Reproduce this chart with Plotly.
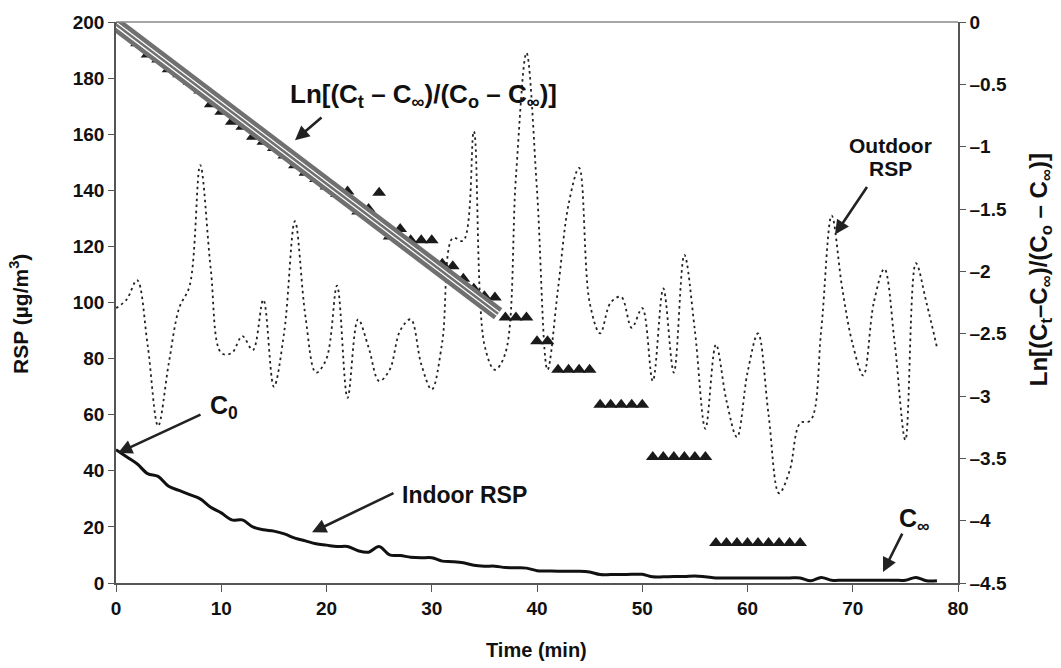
import plotly.graph_objects as go

# ---------------- data ----------------
time_min = list(range(0, 79))

outdoor_rsp = [98, 101, 108, 85, 56, 78, 98, 106, 149, 112,
               82, 82, 88, 83, 101, 70, 90, 129, 95, 75,
               80, 106, 66, 94, 84, 72, 76, 90, 94, 78,
               69, 86, 123, 122, 161, 85, 76, 82, 145, 189,
               140, 76, 105, 135, 148, 100, 89, 100, 102, 91,
               98, 72, 105, 75, 117, 90, 55, 85, 65, 52,
               75, 89, 60, 32, 40, 57, 58, 90, 131, 105,
               85, 74, 100, 112, 85, 51, 114, 100, 84]

indoor_rsp = [47.5, 45, 42.5, 39, 38, 34.5, 33, 31.5, 30, 27,
              25, 22.5, 22.5, 20, 19, 18.5, 17.5, 16, 15, 14,
              13.5, 13, 13, 11.5, 11, 13, 10, 9.8, 9.2, 9,
              9, 7.8, 7.6, 7.2, 6.3, 6, 6, 5.5, 5.4, 5.3,
              4.4, 4.3, 4.2, 4.2, 4.2, 3.9, 3.0, 3.0, 3.0, 3.1,
              3.1, 2.2, 2.2, 2.3, 2.3, 2.5, 2.2, 1.8, 1.8, 1.8,
              1.8, 1.8, 1.8, 1.8, 1.8, 1.8, 0.8, 2.0, 1.0, 1.0,
              1.0, 1.0, 1.0, 1.0, 1.0, 1.0, 2.0, 0.8, 0.8]

ln_time = list(range(0, 66))
ln_ratio = [0, -0.08, -0.17, -0.26, -0.30, -0.38, -0.42, -0.48, -0.55, -0.66,
            -0.72, -0.80, -0.84, -0.92, -0.96, -1.01, -1.07, -1.15, -1.21, -1.26,
            -1.32, -1.38, -1.36, -1.52, -1.50, -1.37, -1.72, -1.66, -1.75, -1.75,
            -1.75, -1.94, -1.96, -2.06, -2.14, -2.20, -2.21, -2.37, -2.37, -2.37,
            -2.56, -2.56, -2.79, -2.79, -2.79, -2.79, -3.07, -3.07, -3.07, -3.07,
            -3.07, -3.49, -3.49, -3.49, -3.49, -3.49, -3.49, -4.18, -4.18, -4.18,
            -4.18, -4.18, -4.18, -4.18, -4.18, -4.18]

fit_time = [0, 36.3]
fit_ln = [-0.02, -2.34]

x_ticks = [0, 10, 20, 30, 40, 50, 60, 70, 80]
left_ticks = [0, 20, 40, 60, 80, 100, 120, 140, 160, 180, 200]
right_ticks = [0, -0.5, -1, -1.5, -2, -2.5, -3, -3.5, -4, -4.5]
right_tick_text = ["0", "\u20130.5", "\u20131", "\u20131.5", "\u20132", "\u20132.5",
                   "\u20133", "\u20133.5", "\u20134", "\u20134.5"]

FONT = "Liberation Sans, Arial, sans-serif"

fig = go.Figure()

fig.add_trace(go.Scatter(x=time_min, y=outdoor_rsp, mode="lines",
                         line=dict(color="#222", width=1.8, dash="2.5px,3.5px", shape="spline"),
                         showlegend=False, hoverinfo="skip"))
fig.add_trace(go.Scatter(x=time_min, y=indoor_rsp, mode="lines",
                         line=dict(color="#111", width=3, shape="spline"),
                         showlegend=False, hoverinfo="skip"))
fig.add_trace(go.Scatter(x=ln_time, y=ln_ratio, mode="markers", yaxis="y2",
                         marker=dict(symbol="triangle-up", size=12, color="#1a1a1a"),
                         showlegend=False, hoverinfo="skip"))
# regression band (layered line)
fig.add_trace(go.Scatter(x=fit_time, y=fit_ln, mode="lines", yaxis="y2",
                         line=dict(color="#707070", width=14),
                         showlegend=False, hoverinfo="skip"))
fig.add_trace(go.Scatter(x=fit_time, y=fit_ln, mode="lines", yaxis="y2",
                         line=dict(color="white", width=5),
                         showlegend=False, hoverinfo="skip"))
fig.add_trace(go.Scatter(x=fit_time, y=fit_ln, mode="lines", yaxis="y2",
                         line=dict(color="#707070", width=2.6),
                         showlegend=False, hoverinfo="skip"))

axis_font = dict(family=FONT, size=19, color="#111", weight="bold")

fig.update_layout(
    width=1061, height=668,
    margin=dict(l=116, r=103, t=18, b=85),
    paper_bgcolor="white", plot_bgcolor="white",
    font=dict(family=FONT, color="#111"),
    xaxis=dict(range=[0, 80], tickvals=x_ticks, showgrid=False, zeroline=False,
               showline=True, linecolor="#555", linewidth=1.5,
               ticks="outside", ticklen=7, tickcolor="#555",
               tickfont=axis_font),
    yaxis=dict(range=[0, 200], tickvals=left_ticks, showgrid=False, zeroline=False,
               showline=True, linecolor="#555", linewidth=1.5,
               ticks="outside", ticklen=6, tickcolor="#555",
               tickfont=axis_font),
    yaxis2=dict(range=[-4.5, 0], overlaying="y", side="right", tickvals=right_ticks,
                ticktext=right_tick_text, showgrid=False, zeroline=False,
                showline=True, linecolor="#555", linewidth=1.5,
                ticks="outside", ticklen=6, tickcolor="#555",
                tickfont=axis_font),
)

# top border line
fig.add_shape(type="line", xref="paper", yref="paper", x0=0, x1=1, y0=1, y1=1,
              line=dict(color="#888", width=1.5))

PW, PH = 842, 565

def paper_x(px):
    return (px - 116) / PW

def paper_y(py):
    return (583 - py) / PH

def label(text, x, y, size, angle=0):
    fig.add_annotation(x=paper_x(x), y=paper_y(y), xref="paper", yref="paper",
                       xanchor="center", yanchor="middle",
                       text=text, showarrow=False, textangle=angle,
                       font=dict(family=FONT, size=size, color="#111"))

def arrow(x, y, ax, ay):
    fig.add_annotation(x=paper_x(x), y=paper_y(y), xref="paper", yref="paper",
                       ax=ax - x, ay=ay - y, axref="pixel", ayref="pixel",
                       text="", showarrow=True,
                       arrowhead=2, arrowsize=1.1, arrowwidth=2.6, arrowcolor="#222")

# axis titles
label("<b>Time (min)</b>", 536, 650, 20)
label("<b>RSP (µg/m<sup>3</sup>)</b>", 19, 312, 21, -90)
label("<b>Ln[(C<sub>t</sub>\u2013C<sub>\u221e</sub>)/(C<sub>o</sub> \u2013 C<sub>\u221e</sub>)]</b>",
      1040, 268, 24, -90)

# Ln label
arrow(295, 137, 323, 113)
label("<b>Ln[(C<sub>t</sub> \u2013 C<sub>\u221e</sub>)/(C<sub>o</sub> \u2013 C<sub>\u221e</sub>)]</b>", 423, 92, 26)
# Outdoor RSP
arrow(835, 232, 868, 183)
label("<b>Outdoor</b>", 890, 142, 21)
label("<b>RSP</b>", 890, 166, 21)
# C0
arrow(118, 452, 202, 413)
label("<b>C<sub>0</sub></b>", 224, 406, 25)
# Indoor RSP
arrow(312, 532, 395, 492)
label("<b>Indoor RSP</b>", 464, 494, 23)
# C infinity
arrow(883, 572, 903, 532)
label("<b>C<sub>\u221e</sub></b>", 914, 520, 25)

fig.write_html("out.html")
